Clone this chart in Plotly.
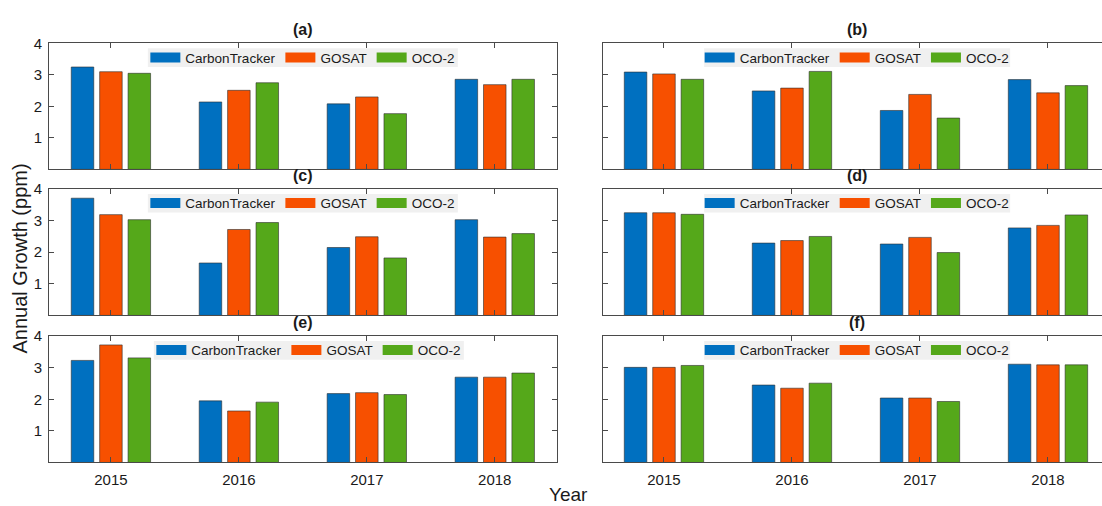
import plotly.graph_objects as go

# Annual CO2 growth (ppm) per year, one row per panel (a)-(f)
years = [2015, 2016, 2017, 2018]
year_labels = ["2015", "2016", "2017", "2018"]
panel_labels = ["(a)", "(b)", "(c)", "(d)", "(e)", "(f)"]
series_names = ["CarbonTracker", "GOSAT", "OCO-2"]
series_colors = ["#0070C0", "#F75000", "#55A81A"]

carbontracker = [
    [3.25, 2.14, 2.08, 2.86],
    [3.09, 2.49, 1.87, 2.85],
    [3.71, 1.66, 2.15, 3.03],
    [3.25, 2.29, 2.26, 2.77],
    [3.23, 1.95, 2.18, 2.70],
    [3.01, 2.45, 2.04, 3.11],
]
gosat = [
    [3.10, 2.51, 2.30, 2.69],
    [3.03, 2.58, 2.38, 2.43],
    [3.19, 2.72, 2.49, 2.48],
    [3.25, 2.37, 2.47, 2.85],
    [3.72, 1.63, 2.21, 2.70],
    [3.01, 2.35, 2.04, 3.09],
]
oco2 = [
    [3.05, 2.75, 1.77, 2.86],
    [2.86, 3.11, 1.63, 2.66],
    [3.03, 2.94, 1.82, 2.59],
    [3.20, 2.50, 1.99, 3.18],
    [3.31, 1.91, 2.15, 2.83],
    [3.07, 2.51, 1.93, 3.09],
]
y_ticks = [1, 2, 3, 4]

W, H = 1102, 506
FONT = "Liberation Sans, Arial, Helvetica, sans-serif"
AXIS_COLOR = "#4a4a4a"
TEXT_COLOR = "#1a1a1a"
LEGEND_BG = "#F0F0F0"

# panel frames in pixels (left/right, top/bottom)
col_px = [(49.0, 556.7), (603.3, 1102.0)]
panel_w = 507.7
row_px = [(35.0, 163.3), (183.3, 312.0), (333.0, 461.7)]
x_ranges = [[2014.516, 2018.484], [2014.526, 2018.422]]
legend_half_w = [155.0, 153.0]
legend_dx = [0, 0, 0, 0, 6, 0]

fig = go.Figure()
layout = dict(
    width=W, height=H, autosize=False,
    margin=dict(l=0, r=0, t=0, b=0),
    paper_bgcolor="white", plot_bgcolor="white",
    barmode="group", bargap=0.334, bargroupgap=0.207,
    font=dict(family=FONT, color=TEXT_COLOR),
    annotations=[], shapes=[],
)

all_series = [carbontracker, gosat, oco2]

for i in range(6):
    r, c = divmod(i, 2)
    suffix = "" if i == 0 else str(i + 1)
    xa, ya = "x" + suffix, "y" + suffix
    x0, x1 = col_px[c]
    top, bottom = row_px[r]
    xdom = [x0 / W, x1 / W]
    ydom = [1 - bottom / H, 1 - top / H]
    cx = (x0 + panel_w / 2)
    lx = cx + legend_dx[i]

    for s, name in enumerate(series_names):
        fig.add_trace(go.Bar(
            x=years, y=all_series[s][i], name=name,
            marker=dict(color=series_colors[s],
                        line=dict(color="rgba(45,45,45,0.75)", width=0.8)),
            showlegend=False, xaxis=xa, yaxis=ya, hoverinfo="x+y+name",
        ))
    # legend entries with wide swatches
    legend_id = "legend" + suffix
    for s, name in enumerate(series_names):
        fig.add_trace(go.Scatter(
            x=[None], y=[None], mode="lines", name=name,
            line=dict(color=series_colors[s], width=10),
            legend=legend_id, showlegend=True, xaxis=xa, yaxis=ya,
            hoverinfo="skip",
        ))

    layout["xaxis" + suffix] = dict(
        domain=xdom, range=x_ranges[c], anchor=ya,
        tickvals=years, ticktext=year_labels,
        showticklabels=(r == 2),
        ticks="inside", ticklen=5, tickwidth=1, tickcolor=AXIS_COLOR,
        showline=True, linecolor=AXIS_COLOR, linewidth=1, mirror="ticks",
        showgrid=False, zeroline=False, fixedrange=True,
        tickfont=dict(size=15, color=TEXT_COLOR), ticklabelstandoff=4,
    )
    layout["yaxis" + suffix] = dict(
        domain=ydom, range=[0, 4], anchor=xa,
        tickvals=y_ticks, showticklabels=(c == 0),
        ticks="inside", ticklen=5, tickwidth=1, tickcolor=AXIS_COLOR,
        showline=True, linecolor=AXIS_COLOR, linewidth=1,
        mirror=("ticks" if c == 0 else False),
        showgrid=False, zeroline=False, fixedrange=True,
        tickfont=dict(size=15, color=TEXT_COLOR), ticklabelstandoff=3,
    )

    # legend box: a compact light-grey panel behind the entries
    box_top, box_bottom = top + 5, top + 24
    layout["shapes"].append(dict(
        type="rect", xref="paper", yref="paper", layer="above",
        x0=(lx - legend_half_w[c]) / W, x1=(lx + legend_half_w[c]) / W,
        y0=1 - box_bottom / H, y1=1 - box_top / H,
        fillcolor=LEGEND_BG, line=dict(width=0),
    ))
    layout[legend_id] = dict(
        orientation="h", x=lx / W, xanchor="center",
        y=1 - (box_top + box_bottom) / 2 / H, yanchor="middle",
        bgcolor="rgba(0,0,0,0)", borderwidth=0, itemwidth=30,
        font=dict(size=13.5, family=FONT, color=TEXT_COLOR),
        xref="paper", yref="paper",
    )
    layout["annotations"].append(dict(
        text="<b>" + panel_labels[i] + "</b>", xref="paper", yref="paper",
        x=cx / W, y=1 - top / H,
        xanchor="center", yanchor="bottom", yshift=3, showarrow=False,
        font=dict(size=16, color=TEXT_COLOR),
    ))

layout["annotations"].append(dict(
    text="Annual Growth (ppm)", xref="paper", yref="paper",
    x=20 / W, y=1 - 254 / H, xanchor="center", yanchor="middle",
    textangle=-90, showarrow=False, font=dict(size=20, color=TEXT_COLOR),
))
layout["annotations"].append(dict(
    text="Year", xref="paper", yref="paper",
    x=568 / W, y=1 - 494 / H, xanchor="center", yanchor="middle",
    showarrow=False, font=dict(size=19, color=TEXT_COLOR),
))

fig.update_layout(**layout)
fig.write_html("out.html")
